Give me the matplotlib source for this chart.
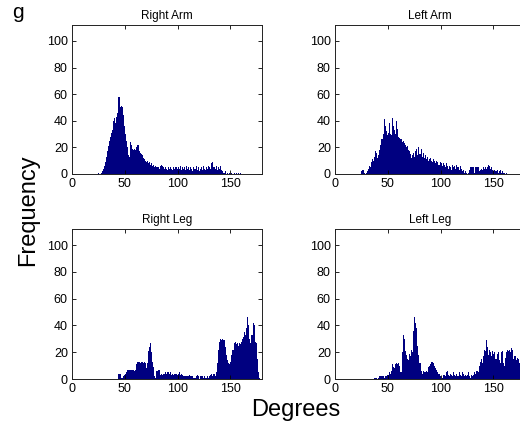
import numpy as np
import matplotlib.pyplot as plt

plt.rcParams['font.family'] = ['Liberation Sans', 'DejaVu Sans']

# per-degree counts
right_arm_start = 25
right_arm = [1, 0, 1, 2, 4, 6, 9, 13, 17, 21, 25, 28, 31, 33, 40, 42, 38, 43, 46, 58,
             50, 51, 50, 44, 36, 30, 25, 20, 14, 13, 24, 22, 19, 18, 19, 18, 20, 22, 17, 16,
             15, 14, 12, 11, 10, 9, 10, 8, 9, 7, 8, 6, 7, 5, 6, 5, 5, 4, 6, 7,
             6, 5, 4, 5, 4, 3, 5, 4, 5, 4, 3, 5, 4, 5, 4, 5, 4, 6, 3, 5,
             4, 5, 3, 6, 4, 5, 3, 5, 4, 2, 5, 4, 6, 3, 5, 2, 4, 5, 3, 6,
             4, 3, 5, 4, 6, 5, 4, 8, 9, 5, 4, 6, 3, 5, 4, 6, 3, 2, 1, 1,
             2, 0, 1, 0, 1, 0, 1, 0, 1, 0, 1, 0, 1, 0, 1]

left_arm_start = 24
left_arm = [0, 2, 3, 1, 0, 1, 2, 4, 6, 5, 9, 11, 10, 13, 17, 16, 12, 14, 18, 22,
            26, 30, 41, 36, 32, 29, 31, 38, 30, 29, 42, 36, 33, 30, 40, 34, 28, 27, 26, 24,
            25, 23, 22, 20, 21, 18, 17, 15, 12, 14, 16, 13, 17, 19, 14, 20, 15, 19, 13, 16,
            12, 14, 11, 13, 10, 11, 12, 10, 9, 11, 10, 8, 10, 9, 7, 9, 8, 6, 8, 7,
            5, 8, 6, 4, 6, 5, 3, 7, 5, 6, 4, 7, 5, 3, 6, 4, 2, 3, 1, 2,
            1, 0, 1, 3, 5, 5, 5, 5, 1, 5, 5, 5, 2, 3, 4, 3, 5, 4, 5, 4,
            5, 7, 6, 4, 5, 3, 2, 3, 2, 3, 1, 2, 3, 1, 2, 1, 1, 0, 1]

right_leg_start = 40
right_leg = [0, 0, 0, 0, 4, 4, 1, 1, 2, 3, 4, 5, 7, 7, 7, 7, 7, 7, 7, 6,
             7, 11, 13, 13, 12, 13, 13, 12, 13, 12, 8, 12, 21, 24, 27, 20, 13, 9, 2, 1,
             6, 7, 7, 3, 4, 3, 4, 4, 5, 4, 5, 5, 4, 5, 3, 4, 3, 4, 4, 3,
             4, 5, 3, 4, 3, 2, 2, 2, 2, 2, 2, 3, 2, 2, 2, 1, 1, 2, 3, 2,
             0, 2, 2, 2, 1, 2, 1, 1, 2, 1, 2, 3, 4, 2, 4, 2, 5, 12, 22, 28,
             30, 29, 30, 29, 29, 24, 18, 14, 12, 11, 13, 18, 22, 27, 28, 26, 27, 25, 27, 26,
             28, 30, 31, 35, 33, 38, 46, 40, 30, 27, 33, 42, 40, 28, 27, 15, 5, 1]

left_leg_start = 35
left_leg = [0, 0, 1, 1, 1, 0, 1, 2, 2, 2, 2, 1, 2, 2, 3, 3, 5, 4, 6, 11,
            9, 8, 11, 12, 11, 12, 10, 5, 20, 33, 30, 21, 18, 15, 14, 19, 17, 22, 20, 36,
            46, 42, 38, 25, 18, 12, 6, 4, 6, 5, 5, 6, 5, 9, 10, 11, 13, 13, 12, 10,
            8, 7, 5, 4, 2, 0, 1, 3, 3, 2, 5, 6, 3, 2, 4, 3, 2, 5, 3, 2,
            4, 2, 5, 3, 2, 5, 4, 2, 3, 2, 3, 5, 2, 1, 3, 2, 3, 5, 4, 6,
            5, 10, 13, 15, 12, 17, 22, 21, 29, 24, 18, 22, 20, 17, 21, 19, 20, 15, 19, 20,
            14, 12, 20, 21, 12, 10, 16, 20, 22, 21, 22, 20, 23, 22, 15, 17, 14, 16, 15, 12,
            10]

titles = ['Right Arm', 'Left Arm', 'Right Leg', 'Left Leg']
panels = [(right_arm_start, right_arm), (left_arm_start, left_arm),
          (right_leg_start, right_leg), (left_leg_start, left_leg)]

fig = plt.figure(figsize=(5.2, 4.29), dpi=100)
W, H = 520, 429
boxes = [(72, 25, 190, 149), (335, 25, 190, 149),
         (72, 229, 190, 150), (335, 229, 190, 150)]

for (x0, y0, w, h), title, (start, counts) in zip(boxes, titles, panels):
    ax = fig.add_axes([x0 / W, 1 - (y0 + h) / H, w / W, h / H])
    edges = np.arange(start, start + len(counts) + 1)
    ax.stairs(counts, edges, fill=True, color='#000080', linewidth=0)
    ax.set_xlim(0, 180)
    ax.set_ylim(0, 112)
    ax.set_xticks([0, 50, 100, 150])
    ax.set_yticks([0, 20, 40, 60, 80, 100])
    ax.tick_params(direction='in', length=3, width=0.6, labelsize=9,
                   top=True, right=True, pad=3)
    for s in ax.spines.values():
        s.set_linewidth(0.7)
        s.set_color('#222222')
    ax.set_title(title, fontsize=8.5, pad=4)

fig.text(18 / W, 1 - 13 / H, 'g', fontsize=15, ha='center', va='center')
fig.text(28 / W, 1 - 210 / H, 'Frequency', fontsize=17, rotation=90,
         ha='center', va='center')
fig.text(296 / W, 1 - 410 / H, 'Degrees', fontsize=17, ha='center', va='center')

fig.savefig('out.png', dpi=100)
